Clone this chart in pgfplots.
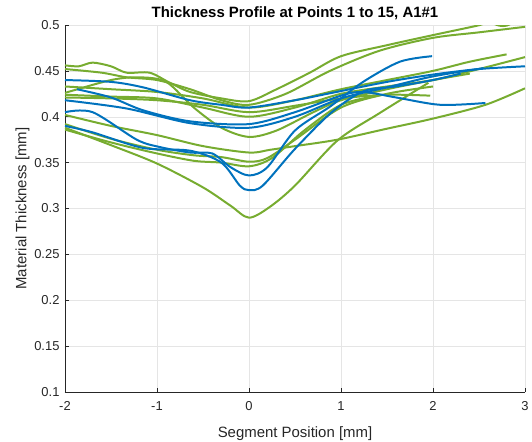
\documentclass[border=0pt]{standalone}
\usepackage{fontspec}
\setmainfont{Liberation Sans}
\usepackage{pgfplots}
\pgfplotsset{compat=1.18}
\definecolor{mblue}{RGB}{0,114,189}
\definecolor{mgreen}{RGB}{119,172,48}
\definecolor{axgray}{RGB}{38,38,38}
\begin{document}
\begin{tikzpicture}
\useasboundingbox (-65bp,-50bp) rectangle (467bp,392bp);
\begin{axis}[
  at={(0,0)}, anchor=south west,
  scale only axis, width=460bp, height=367bp,
  xmin=-2, xmax=3, ymin=0.1, ymax=0.5,
  xtick={-2,-1,0,1,2,3},
  ytick={0.1,0.15,0.2,0.25,0.3,0.35,0.4,0.45,0.5},
  yticklabels={0.1,0.15,0.2,0.25,0.3,0.35,0.4,0.45,0.5},
  axis x line*=bottom, axis y line*=left,
  axis line style={axgray, line width=0.6pt, -},
  tick style={axgray, line width=0.6pt},
  tick align=inside, major tick length=4bp,
  grid=major, major grid style={gray!20, line width=0.5pt},
  /pgf/number format/assume math mode=true,
  ticklabel style={font=\fontsize{13}{15}\selectfont, text=axgray},
  xticklabel style={yshift=-6bp},
  yticklabel style={xshift=-2bp},
  xlabel={Segment Position [mm]},
  ylabel={Material Thickness [mm]},
  label style={font=\fontsize{15}{17}\selectfont, text=axgray},
  xlabel style={yshift=-9bp},
  ylabel style={yshift=-2bp},
  title={\textbf{Thickness Profile at Points 1 to 15, A1\#1}},
  title style={font=\fontsize{15}{17}\selectfont, yshift=-4bp},
  every axis plot/.append style={line width=2pt, smooth, no markers},
  clip=true,
]
% ---- green curves ----
\addplot[mgreen] coordinates {(-2,0.456)(-1.85,0.455)(-1.7,0.459)(-1.5,0.455)(-1.33,0.448)(-1.08,0.448)(-0.86,0.437)(-0.64,0.427)(-0.3,0.42)(0,0.417)(0.3,0.43)(0.66,0.448)(1.0,0.466)(1.5,0.478)(2.0,0.489)(2.49,0.4995)(2.6,0.503)(2.72,0.4993)(2.8,0.4993)(2.9,0.504)};
\addplot[mgreen] coordinates {(-2,0.452)(-1.6,0.448)(-1.33,0.443)(-1.0,0.44)(-0.64,0.43)(-0.3,0.418)(0,0.413)(0.4,0.425)(0.88,0.45)(1.42,0.472)(2.0,0.486)(2.5,0.492)(3,0.498)};
\addplot[mgreen] coordinates {(-2,0.433)(-1.5,0.43)(-1,0.427)(-0.5,0.42)(0,0.41)(0.5,0.418)(1,0.43)(1.5,0.44)(2,0.45)(2.4,0.46)(2.8,0.468)};
\addplot[mgreen] coordinates {(-2,0.424)(-1.5,0.422)(-1,0.42)(-0.5,0.41)(0,0.40)(0.5,0.41)(1,0.425)(1.5,0.433)(2,0.44)(2.5,0.452)(3,0.465)};
\addplot[mgreen] coordinates {(-2,0.421)(-1.5,0.42)(-1,0.418)(-0.5,0.413)(0,0.405)(0.5,0.412)(1,0.42)(1.5,0.424)(1.97,0.423)};
\addplot[mgreen] coordinates {(-2,0.426)(-1.5,0.44)(-1.2,0.443)(-0.9,0.438)(-0.6,0.41)(-0.3,0.388)(0,0.378)(0.3,0.385)(0.7,0.405)(1,0.418)(1.5,0.43)(2,0.44)(2.4,0.447)};
\addplot[mgreen] coordinates {(-2,0.402)(-1.5,0.39)(-1,0.38)(-0.5,0.368)(0,0.361)(0.23,0.364)(0.5,0.368)(0.96,0.375)(1.5,0.387)(2,0.398)(2.57,0.413)(3,0.431)};
\addplot[mgreen] coordinates {(-2,0.392)(-1.5,0.376)(-1,0.364)(-0.6,0.358)(-0.3,0.356)(0,0.351)(0.2,0.355)(0.5,0.375)(1,0.41)(1.5,0.425)(2,0.433)};
\addplot[mgreen] coordinates {(-2,0.386)(-1.5,0.372)(-1,0.36)(-0.6,0.352)(-0.3,0.35)(0,0.346)(0.25,0.355)(0.6,0.385)(1,0.413)(1.4,0.423)};
\addplot[mgreen] coordinates {(-2,0.388)(-1.5,0.369)(-1,0.349)(-0.5,0.323)(-0.2,0.303)(0,0.29)(0.23,0.302)(0.5,0.325)(0.96,0.374)(1.42,0.404)(1.95,0.437)};
% ---- blue curves ----
\addplot[mblue] coordinates {(-2,0.44)(-1.5,0.438)(-1.15,0.432)(-0.64,0.418)(-0.3,0.413)(0,0.41)(0.5,0.418)(0.9,0.426)(1.5,0.438)(2,0.446)(2.5,0.452)(3,0.455)};
\addplot[mblue] coordinates {(-1.87,0.43)(-1.5,0.421)(-1.15,0.407)(-0.64,0.395)(0,0.392)(0.5,0.405)(1.0,0.423)(1.24,0.427)(1.6,0.421)(2.08,0.413)(2.57,0.415)};
\addplot[mblue] coordinates {(-2,0.418)(-1.33,0.409)(-0.64,0.393)(0,0.388)(0.5,0.4)(1.0,0.42)(1.5,0.432)(2.0,0.444)(2.55,0.453)};
\addplot[mblue] coordinates {(-2,0.405)(-1.7,0.405)(-1.22,0.375)(-0.97,0.367)(-0.64,0.361)(-0.4,0.36)(-0.2,0.345)(0,0.336)(0.2,0.345)(0.5,0.385)(0.88,0.411)(1.24,0.438)(1.64,0.46)(1.99,0.466)};
\addplot[mblue] coordinates {(-2,0.39)(-1.7,0.383)(-1.15,0.366)(-0.64,0.363)(-0.3,0.35)(-0.1,0.325)(0,0.32)(0.15,0.325)(0.5,0.365)(0.9,0.405)(1.25,0.428)(1.6,0.433)(2.0,0.44)(2.3,0.447)};
\end{axis}
\end{tikzpicture}
\end{document}
